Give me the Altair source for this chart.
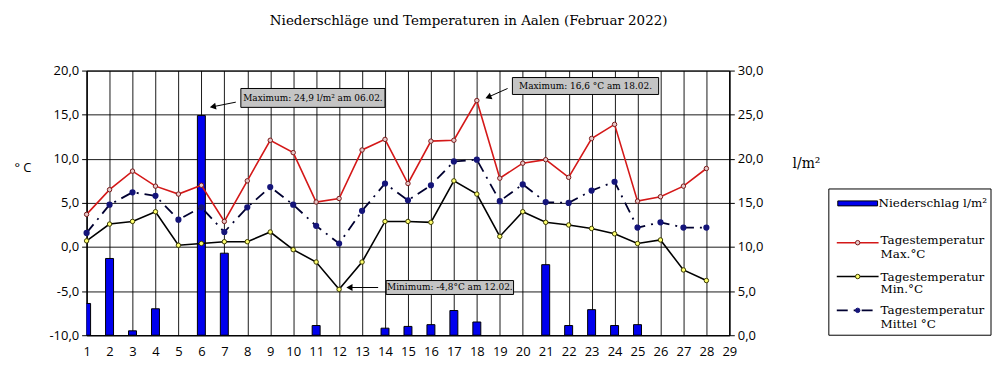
import altair as alt
import pandas as pd

# ---------------- data ----------------
days = list(range(1, 29))
precip = [3.6, 8.7, 0.5, 3.0, 0.0, 24.9, 9.3, 0.0, 0.0, 0.0, 1.1, 0.0, 0.0, 0.8,
          1.0, 1.2, 2.8, 1.5, 0.0, 0.0, 8.0, 1.1, 2.9, 1.1, 1.2, 0.0, 0.0, 0.0]
tmax = [3.7, 6.5, 8.6, 6.9, 6.0, 7.0, 2.9, 7.5, 12.1, 10.7, 5.1, 5.5, 11.0, 12.2,
        7.2, 12.0, 12.1, 16.6, 7.8, 9.5, 9.9, 7.9, 12.3, 13.9, 5.2, 5.7, 6.9, 8.9]
tmin = [0.7, 2.6, 2.9, 4.0, 0.2, 0.4, 0.6, 0.6, 1.7, -0.3, -1.7, -4.8, -1.7, 2.9,
        2.9, 2.8, 7.5, 6.0, 1.2, 4.0, 2.8, 2.5, 2.1, 1.5, 0.4, 0.8, -2.6, -3.8]
tmean = [1.6, 4.8, 6.2, 5.8, 3.1, 4.5, 1.7, 4.5, 6.8, 4.8, 2.4, 0.4, 4.1, 7.2,
         5.3, 7.0, 9.7, 9.9, 5.2, 7.1, 5.1, 5.0, 6.4, 7.4, 2.2, 2.8, 2.2, 2.2]

x_ticks = list(range(1, 30))
temp_ticks = [-10, -5, 0, 5, 10, 15, 20]
rain_ticks = [0, 5, 10, 15, 20, 25, 30]

title_text = "Niederschläge und Temperaturen in Aalen (Februar 2022)"
left_title = "° C"
right_title = "l/m²"

# annotation boxes (in day / °C units)
ann_text = ["Maximum: 24,9 l/m² am 06.02.", "Maximum: 16,6 °C am 18.02.",
            "Minimum: -4,8°C am 12.02."]
ann_x1 = [7.72, 19.55, 14.05]
ann_x2 = [14.0, 25.92, 19.6]
ann_y1 = [17.97, 19.21, -3.80]
ann_y2 = [15.83, 17.29, -5.38]
arr_x1 = [7.50, 19.34, 13.70]
arr_y1 = [16.42, 17.97, -4.59]
arr_x2 = [6.50, 18.50, 12.45]
arr_y2 = [15.90, 17.00, -4.59]
arr_angle = [349, 338, 0]

# legend items
leg_names = ["Niederschlag l/m²", "Tagestemperatur", "Max.°C", "Tagestemperatur",
             "Min.°C", "Tagestemperatur", "Mittel °C"]
leg_text_x = [50, 52, 52, 52, 52, 52, 52]
leg_text_y = [133, 170, 184, 207, 220, 241, 255]

# ---------------- frames ----------------
df = pd.DataFrame({"day": days, "precip": precip, "tmax": tmax, "tmin": tmin, "tmean": tmean})
df_bar = df[df["precip"] > 0]
ann = pd.DataFrame({"text": ann_text, "x1": ann_x1, "x2": ann_x2, "y1": ann_y1, "y2": ann_y2,
                    "xc": [(a + b) / 2 for a, b in zip(ann_x1, ann_x2)],
                    "yc": [(a + b) / 2 for a, b in zip(ann_y1, ann_y2)]})
arr = pd.DataFrame({"x1": arr_x1, "y1": arr_y1, "x2": arr_x2, "y2": arr_y2, "angle": arr_angle})

SANS = "Open Sans"
SERIF = "DejaVu Serif"
comma_expr = "replace(replace(format(datum.value, '.1f'), '.', ','), '\u2212', '-')"

xscale = alt.Scale(domain=[1, 29], nice=False, zero=False, padding=0)
tscale = alt.Scale(domain=[-10, 20], nice=False, zero=False, padding=0)
rscale = alt.Scale(domain=[0, 30], nice=False, zero=False, padding=0)

x_axis = alt.Axis(values=x_ticks, title=None, grid=True, gridColor="#000000", gridWidth=1,
                  gridOpacity=0.9, ticks=False, labelPadding=10, labelFont=SANS,
                  labelFontSize=13, labelColor="black", domainColor="black", format="d",
                  labelFlush=False, labelOverlap=False)
t_axis = alt.Axis(values=temp_ticks, orient="left", title=left_title, grid=True,
                  gridColor="#000000", gridWidth=1, gridOpacity=0.9, tickSize=5,
                  tickColor="black", domainColor="black", labelExpr=comma_expr,
                  labelFont=SANS, labelFontSize=13, labelColor="black", labelPadding=3,
                  labelFlush=False,
                  titleAngle=0, titleX=-73, titleY=97, titleAlign="left",
                  titleBaseline="middle", titleFont=SANS, titleFontSize=13,
                  titleFontWeight="normal", titleColor="black")
r_axis = alt.Axis(values=rain_ticks, orient="right", title=right_title, grid=False,
                  tickSize=5, tickColor="black", domainColor="black", labelExpr=comma_expr,
                  labelFont=SANS, labelFontSize=13, labelColor="black", labelPadding=3,
                  labelFlush=False,
                  titleAngle=0, titleX=63, titleY=93, titleAlign="left",
                  titleBaseline="middle", titleFont=SERIF, titleFontSize=14,
                  titleFontWeight="normal", titleColor="black")


def Xd(f):
    return alt.X(f, scale=xscale, axis=x_axis)


def Yt(f):
    return alt.Y(f, scale=tscale, axis=t_axis)


bars = alt.Chart(df_bar).mark_bar(size=8, color="#0000ee", stroke="black", strokeWidth=1,
                                  clip=True).encode(
    x=Xd("day:Q"), y=alt.Y("precip:Q", scale=rscale, axis=r_axis))

max_line = alt.Chart(df).mark_line(color="#d41818", strokeWidth=1.6).encode(
    x=Xd("day:Q"), y=Yt("tmax:Q"))
max_pts = alt.Chart(df).mark_point(shape="circle", size=20, filled=True, fill="#e6c8c8",
                                   stroke="#7a1a1a", strokeWidth=1, opacity=1).encode(
    x=Xd("day:Q"), y=Yt("tmax:Q"))
min_line = alt.Chart(df).mark_line(color="#000000", strokeWidth=1.6).encode(
    x=Xd("day:Q"), y=Yt("tmin:Q"))
min_pts = alt.Chart(df).mark_point(shape="circle", size=20, filled=True, fill="#ffff70",
                                   stroke="#3a3a00", strokeWidth=1, opacity=1).encode(
    x=Xd("day:Q"), y=Yt("tmin:Q"))
mean_line = alt.Chart(df).mark_line(color="#000030", strokeWidth=1.8,
                                    strokeDash=[11, 6, 2, 6]).encode(
    x=Xd("day:Q"), y=Yt("tmean:Q"))
mean_pts = alt.Chart(df).mark_point(shape="circle", size=18, filled=True, fill="#15157a",
                                    stroke="#15157a", opacity=1).encode(
    x=Xd("day:Q"), y=Yt("tmean:Q"))

ann_box = alt.Chart(ann).mark_rect(fill="#c4c4c4", stroke="black", strokeWidth=1).encode(
    x=Xd("x1:Q"), x2="x2:Q", y=Yt("y1:Q"), y2="y2:Q")
ann_txt = alt.Chart(ann).mark_text(font=SERIF, fontSize=9, color="black",
                                   align="center", baseline="middle").encode(
    x=Xd("xc:Q"), y=Yt("yc:Q"), text="text:N")
arr_rule = alt.Chart(arr).mark_rule(color="black", strokeWidth=1).encode(
    x=Xd("x1:Q"), y=Yt("y1:Q"), x2="x2:Q", y2="y2:Q")
arr_head = alt.Chart(arr).mark_point(shape="triangle-left", size=50, filled=True,
                                     color="black", opacity=1).encode(
    x=Xd("x2:Q"), y=Yt("y2:Q"), angle=alt.Angle("angle:Q", scale=None))

temps = alt.layer(max_line, min_line, mean_line, max_pts, min_pts, mean_pts,
                  ann_box, ann_txt, arr_rule, arr_head)

main = alt.layer(bars, temps).resolve_scale(y="independent").properties(
    width=646, height=266, view=alt.ViewBackground(stroke="black", strokeWidth=1))

# ---------------- legend panel ----------------
LEG_W = 163
lxs = alt.Scale(domain=[0, LEG_W], nice=False, zero=False, padding=0)
lys = alt.Scale(domain=[0, 266], reverse=True, nice=False, zero=False, padding=0)


def LX(f):
    return alt.X(f, scale=lxs, axis=None)


def LY(f):
    return alt.Y(f, scale=lys, axis=None)


leg_box = alt.Chart(pd.DataFrame({"x1": [0], "x2": [LEG_W], "y1": [119], "y2": [266]})).mark_rect(
    fill="white", stroke="black", strokeWidth=1).encode(
    x=LX("x1:Q"), x2="x2:Q", y=LY("y1:Q"), y2="y2:Q")
leg_bar = alt.Chart(pd.DataFrame({"x1": [9], "x2": [49], "y1": [131], "y2": [136]})).mark_rect(
    fill="#0000ee", stroke="black", strokeWidth=1).encode(
    x=LX("x1:Q"), x2="x2:Q", y=LY("y1:Q"), y2="y2:Q")


def leg_line(yv, color, dash=None):
    kw = dict(color=color, strokeWidth=1.6)
    if dash:
        kw["strokeDash"] = dash
    return alt.Chart(pd.DataFrame({"x1": [8], "x2": [50], "y": [yv]})).mark_rule(**kw).encode(
        x=LX("x1:Q"), x2="x2:Q", y=LY("y:Q"))


def leg_pt(yv, fill, stroke):
    return alt.Chart(pd.DataFrame({"x": [29], "y": [yv]})).mark_point(
        shape="circle", size=20, filled=True, fill=fill, stroke=stroke, strokeWidth=1,
        opacity=1).encode(x=LX("x:Q"), y=LY("y:Q"))


leg_text = alt.Chart(pd.DataFrame({"t": leg_names, "x": leg_text_x, "y": leg_text_y})).mark_text(
    font=SERIF, fontSize=12, color="black", align="left", baseline="middle").encode(
    x=LX("x:Q"), y=LY("y:Q"), text="t:N")

legend = alt.layer(
    leg_box, leg_bar,
    leg_line(173, "#d41818"), leg_pt(173, "#e6c8c8", "#7a1a1a"),
    leg_line(207, "#000000"), leg_pt(207, "#ffff70", "#3a3a00"),
    leg_line(241, "#000030", [11, 6, 2, 6]), leg_pt(241, "#15157a", "#15157a"),
    leg_text,
).properties(width=LEG_W, height=266,
             view=alt.ViewBackground(strokeOpacity=0))

chart = alt.hconcat(main, legend, spacing=7).properties(
    title=alt.TitleParams(title_text, font=SERIF, fontSize=13.5, fontWeight="normal",
                          color="black", anchor="middle", dx=-34, offset=37),
    padding={"left": 5, "top": 5, "right": 0, "bottom": 0},
).configure_view(stroke="black")

chart.save("out.html", embed_options={"renderer": "svg", "actions": False})
